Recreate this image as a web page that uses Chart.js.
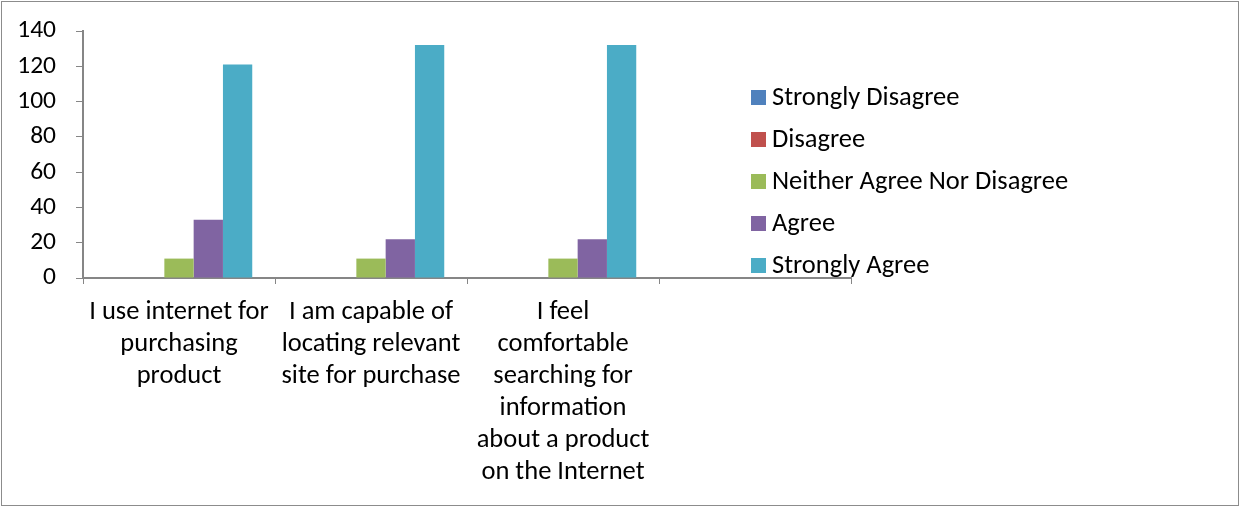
<!DOCTYPE html>
<html>
<head>
<meta charset="utf-8">
<script src="https://cdn.jsdelivr.net/npm/chart.js@4.4.0/dist/chart.umd.min.js"></script>
<style>
    html, body { margin: 0; padding: 0; background: #fff; }
    #wrap { position: relative; width: 1241px; height: 508px; }
</style>
</head>
<body>
<div id="wrap"><canvas id="surveyChart"></canvas></div>
<script>
// Categories (4th slot is empty in the original)
const categories = [
    ['I use internet for', 'purchasing', 'product'],
    ['I am capable of', 'locating relevant', 'site for purchase'],
    ['I feel', 'comfortable', 'searching for', 'information', 'about a product', 'on the Internet'],
    ''
];

// Series values
const stronglyDisagree = [0, 0, 0];
const disagree = [0, 0, 0];
const neitherAgree = [11, 11, 11];
const agree = [33, 22, 22];
const stronglyAgree = [121, 132, 132];

const seriesNames = ['Strongly Disagree', 'Disagree', 'Neither Agree Nor Disagree', 'Agree', 'Strongly Agree'];
const seriesColors = ['#4F81BD', '#C0504D', '#9BBB59', '#8064A2', '#4BACC6'];

// Y ticks
const yMin = 0;
const yMax = 140;
const yStep = 20;

const fontFamily = 'Carlito, Lato, sans-serif';

// Legend drawn over the empty right part of the plot, plus outer border
const sideLegend = {
    id: 'sideLegend',
    afterDraw(chart) {
        const ctx = chart.ctx;
        ctx.save();
        ctx.strokeStyle = '#8c8c8c';
        ctx.lineWidth = 1;
        ctx.strokeRect(1.5, 1.5, 1237, 504);

        ctx.font = '26.5px ' + fontFamily;
        ctx.textBaseline = 'middle';
        chart.data.datasets.forEach((ds, i) => {
            const cy = 97 + i * 42;
            ctx.fillStyle = ds.backgroundColor;
            ctx.fillRect(751, cy - 7, 15, 15);
            ctx.fillStyle = '#000';
            ctx.fillText(ds.label, 772, cy + 1);
        });
        ctx.restore();
    }
};

const datasets = [stronglyDisagree, disagree, neitherAgree, agree, stronglyAgree].map((values, i) => ({
    label: seriesNames[i],
    data: values,
    backgroundColor: seriesColors[i],
    borderWidth: 0,
    barPercentage: 1.0,
    categoryPercentage: 0.763
}));

const ctx = document.getElementById('surveyChart').getContext('2d');
const surveyChart = new Chart(ctx, {
    type: 'bar',
    data: {
        labels: categories,
        datasets: datasets
    },
    options: {
        responsive: true,
        maintainAspectRatio: false,
        animation: false,
        layout: {
            padding: { left: 0, right: 390, top: 31, bottom: 0 }
        },
        plugins: {
            legend: { display: false },
            tooltip: { enabled: false }
        },
        scales: {
            x: {
                offset: true,
                grid: {
                    offset: true,
                    drawOnChartArea: false,
                    drawTicks: true,
                    tickLength: 6,
                    color: '#868686'
                },
                border: { color: '#868686', width: 2 },
                ticks: {
                    color: '#000',
                    maxRotation: 0,
                    autoSkip: false,
                    padding: 12,
                    font: { family: fontFamily, size: 26.5, lineHeight: 1.21 }
                },
                afterFit(scale) {
                    scale.height = 230;
                    scale.paddingLeft = 0;
                    scale.paddingRight = 0;
                }
            },
            y: {
                min: yMin,
                max: yMax,
                ticks: {
                    stepSize: yStep,
                    color: '#000',
                    padding: 20,
                    font: { family: fontFamily, size: 25.5 }
                },
                grid: {
                    drawOnChartArea: false,
                    drawTicks: true,
                    tickLength: 7,
                    color: '#868686'
                },
                border: { color: '#868686', width: 2 },
                afterFit(scale) {
                    scale.width = 83;
                    scale.paddingTop = 0;
                    scale.paddingBottom = 0;
                }
            }
        }
    },
    plugins: [sideLegend]
});
</script>
</body>
</html>
